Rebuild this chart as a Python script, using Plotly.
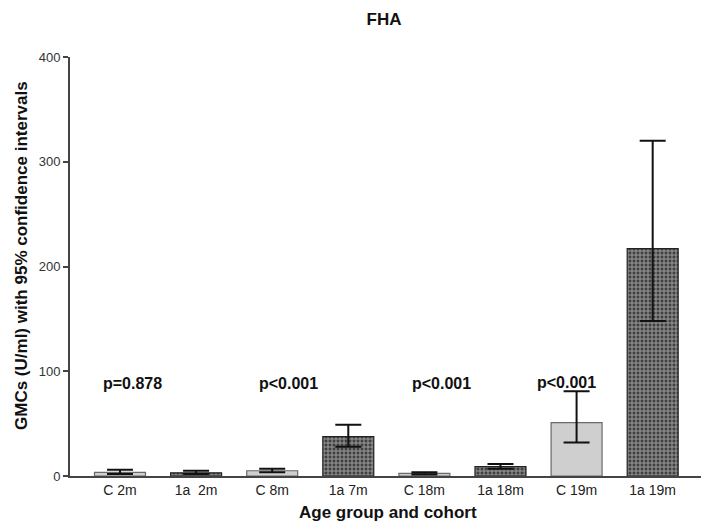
import plotly.graph_objects as go

# Geometric mean concentrations (U/ml) with 95% confidence limits
groups = ["C 2m", "1a  2m", "C 8m", "1a 7m", "C 18m", "1a 18m", "C 19m", "1a 19m"]
gmc = [3.5, 3, 5, 37.5, 2.5, 9, 51, 217]
ci_low = [2, 2, 3.5, 28, 1.5, 7, 32, 148]
ci_high = [6, 5, 7, 49, 3.5, 11.5, 81, 320]

p_labels = ["p=0.878", "p<0.001", "p<0.001", "p<0.001"]
p_x = [0.17, 2.22, 4.22, 5.87]
p_y = [88, 88, 88, 89]

y_ticks = [0, 100, 200, 300, 400]

FONT = "Liberation Sans, Arial, sans-serif"

idx = list(range(len(groups)))
c_idx = [i for i in idx if groups[i].startswith("C")]
a_idx = [i for i in idx if groups[i].startswith("1a")]

fig = go.Figure()

# Control cohort: plain light grey bars
fig.add_trace(go.Bar(
    x=c_idx,
    y=[gmc[i] for i in c_idx],
    width=0.67,
    marker=dict(color="#cfcfcf", line=dict(color="#6a6a6a", width=1.2)),
    error_y=dict(
        type="data", symmetric=False,
        array=[ci_high[i] - gmc[i] for i in c_idx],
        arrayminus=[gmc[i] - ci_low[i] for i in c_idx],
        color="#111111", thickness=2, width=13,
    ),
    showlegend=False,
))

# Cohort 1a: chequered fill (dark squares on a light grid)
fig.add_trace(go.Bar(
    x=a_idx,
    y=[gmc[i] for i in a_idx],
    width=0.67,
    marker=dict(
        color="#555555",
        line=dict(color="#222222", width=1.2),
        pattern=dict(shape="+", size=4, solidity=0.45, fgcolor="#f4f4f4", bgcolor="#404040"),
    ),
    error_y=dict(
        type="data", symmetric=False,
        array=[ci_high[i] - gmc[i] for i in a_idx],
        arrayminus=[gmc[i] - ci_low[i] for i in a_idx],
        color="#111111", thickness=2, width=13,
    ),
    showlegend=False,
))

for txt, xv, yv in zip(p_labels, p_x, p_y):
    fig.add_annotation(x=xv, y=yv, text=f"<b>{txt}</b>", showarrow=False,
                       font=dict(family=FONT, size=16, color="#111111"),
                       xanchor="center", yanchor="middle")

# Axis titles placed as annotations
fig.add_annotation(xref="paper", yref="paper", x=-0.078, y=0.527,
                   text="<b>GMCs (U/ml) with 95% confidence intervals</b>",
                   textangle=-90, showarrow=False,
                   font=dict(family=FONT, size=17, color="#111111"),
                   xanchor="center", yanchor="middle")
fig.add_annotation(xref="paper", yref="paper", x=(388 - 70) / 631, y=-36 / 419,
                   text="<b>Age group and cohort</b>", showarrow=False,
                   font=dict(family=FONT, size=17, color="#111111"),
                   xanchor="center", yanchor="middle")

fig.update_layout(
    width=701, height=526,
    margin=dict(l=70, r=0, t=57, b=50),
    paper_bgcolor="white", plot_bgcolor="white",
    title=dict(text="<b>FHA</b>", x=384 / 701, y=1 - 19 / 526,
               xanchor="center", yanchor="middle",
               font=dict(family=FONT, size=17, color="#111111")),
    font=dict(family=FONT, color="#222222"),
    bargap=0.33,
)

fig.update_xaxes(
    range=[-0.657, 7.635],
    tickmode="array", tickvals=idx, ticktext=groups,
    tickfont=dict(family=FONT, size=14, color="#222222"),
    showline=True, linecolor="#444444", linewidth=2,
    ticks="", showgrid=False, zeroline=False,
)
fig.update_yaxes(
    range=[0, 400],
    tickmode="array", tickvals=y_ticks,
    tickfont=dict(family=FONT, size=13, color="#333333"),
    showline=True, linecolor="#444444", linewidth=2,
    ticks="outside", ticklen=5, tickcolor="#444444", tickwidth=1.5,
    showgrid=False, zeroline=False,
)

fig.write_html("out.html")
